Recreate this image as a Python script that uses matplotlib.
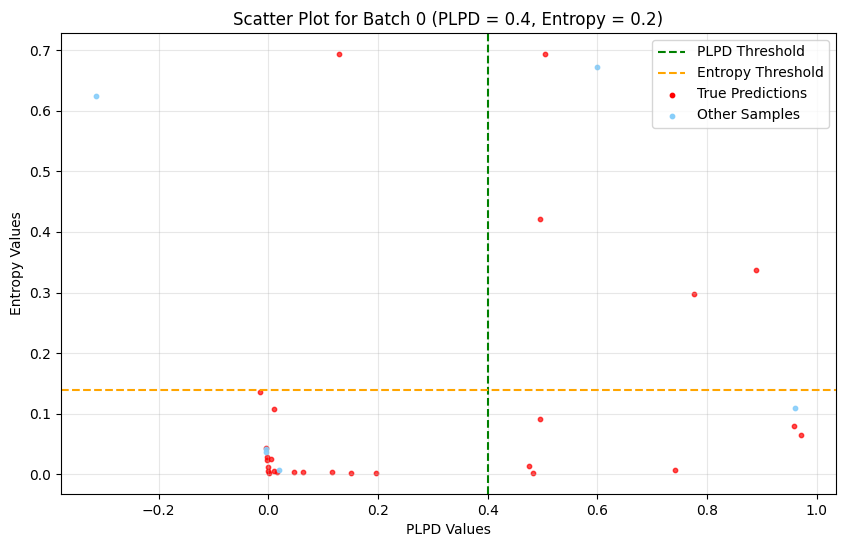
import matplotlib
matplotlib.use("Agg")
import matplotlib.pyplot as plt
import numpy as np

plpd_threshold = 0.4
entropy_threshold = 0.2
# horizontal line is drawn at threshold * ln(2)
entropy_line = entropy_threshold * np.log(2)

true_plpd = [-0.015, 0.011, 0.128, 0.504, 0.496, 0.777, 0.889, 0.496, 0.476, 0.482,
             0.741, 0.958, 0.971, -0.004, -0.002, -0.002, 0.004, 0.0, 0.0, 0.001,
             0.010, 0.016, 0.046, 0.064, 0.116, 0.150, 0.196]
true_entropy = [0.135, 0.107, 0.694, 0.694, 0.421, 0.297, 0.337, 0.091, 0.013, 0.002,
                0.007, 0.080, 0.064, 0.044, 0.028, 0.023, 0.025, 0.012, 0.005, 0.002,
                0.005, 0.003, 0.003, 0.003, 0.004, 0.002, 0.002]

other_plpd = [-0.314, 0.599, 0.960, -0.005, -0.004, 0.020]
other_entropy = [0.624, 0.672, 0.110, 0.042, 0.036, 0.007]

fig = plt.figure(figsize=(8.46, 5.47), dpi=100)
ax = fig.add_axes([0.0721, 0.0969, 0.916, 0.8428])

ax.axvline(plpd_threshold, color='green', linestyle='--', label='PLPD Threshold')
ax.axhline(entropy_line, color='orange', linestyle='--', label='Entropy Threshold')
ax.scatter(true_plpd, true_entropy, color='red', s=10, alpha=0.7, label='True Predictions')
ax.scatter(other_plpd, other_entropy, color='lightskyblue', s=10, alpha=0.9, label='Other Samples')

ax.set_title(f"Scatter Plot for Batch 0 (PLPD = {plpd_threshold}, Entropy = {entropy_threshold})")
ax.set_xlabel("PLPD Values")
ax.set_ylabel("Entropy Values")
leg = ax.legend(loc='upper right')
for h in leg.legend_handles:
    h.set_alpha(1)
ax.grid(True, alpha=0.3)

fig.savefig("out.png", dpi=100)
